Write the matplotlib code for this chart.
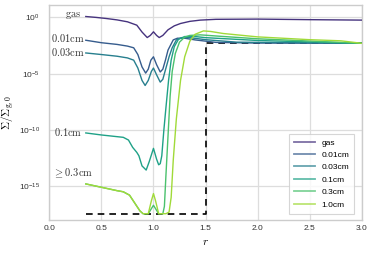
import numpy as np
import matplotlib
matplotlib.use("Agg")
import matplotlib.pyplot as plt
from matplotlib.ticker import FixedLocator, FixedFormatter, NullLocator

plt.rcParams['mathtext.fontset'] = 'cm'
plt.rcParams['font.family'] = ['Liberation Sans', 'DejaVu Sans']

labels = ["gas", "0.01cm", "0.03cm", "0.1cm", "0.3cm", "1.0cm"]
colors = ['#46337e', '#365c8d', '#277f8e', '#1fa187', '#4ac16d', '#a0da39']

# x positions and log10(Sigma/Sigma_g0)
x_gas = [0.35, 0.45, 0.55, 0.65, 0.75, 0.84, 0.89, 0.94, 0.97, 1.0, 1.03, 1.055, 1.09,
         1.14, 1.2, 1.26, 1.35, 1.45, 1.6, 2.0, 2.5, 3.0]
y_gas = [0.08, 0.0, -0.1, -0.22, -0.39, -0.69, -1.3, -1.79, -1.6, -1.28, -1.6, -1.79, -1.6,
         -1.1, -0.75, -0.54, -0.35, -0.24, -0.17, -0.15, -0.2, -0.24]

x_001 = [0.35, 0.5, 0.65, 0.75, 0.81, 0.85, 0.89, 0.925, 0.95, 0.975, 1.0, 1.03, 1.065,
         1.09, 1.115, 1.14, 1.19, 1.23, 1.3, 1.4, 1.6, 2.0, 2.5, 3.0]
y_001 = [-2.03, -2.25, -2.4, -2.55, -2.7, -3.3, -4.4, -4.95, -4.6, -3.8, -3.5, -4.2, -4.85,
         -4.6, -3.8, -2.9, -2.0, -1.85, -1.85, -2.0, -2.22, -2.28, -2.29, -2.3]

x_003 = [0.35, 0.5, 0.65, 0.75, 0.81, 0.85, 0.89, 0.92, 0.95, 0.98, 1.0, 1.03, 1.065,
         1.09, 1.12, 1.15, 1.18, 1.22, 1.27, 1.35, 1.5, 1.8, 2.5, 3.0]
y_003 = [-3.16, -3.3, -3.45, -3.6, -3.8, -4.5, -5.6, -6.05, -5.6, -4.8, -4.5, -5.1, -5.75,
         -5.5, -4.5, -3.5, -2.7, -2.0, -1.8, -1.8, -1.98, -2.2, -2.26, -2.3]

x_01 = [0.35, 0.5, 0.65, 0.71, 0.76, 0.8, 0.84, 0.86, 0.89, 0.93, 0.96, 1.0, 1.03, 1.05,
        1.065, 1.08, 1.1, 1.12, 1.145, 1.17, 1.2, 1.24, 1.3, 1.4, 1.5, 2.0, 2.5, 3.0]
y_01 = [-10.27, -10.45, -10.6, -10.66, -10.9, -11.55, -12.0, -12.3, -13.2, -13.57, -12.8,
        -11.64, -12.6, -13.1, -13.0, -12.3, -10.0, -8.0, -5.6, -3.8, -2.6, -1.95, -1.7,
        -1.7, -1.8, -2.05, -2.18, -2.3]

x_03 = [0.35, 0.5, 0.65, 0.71, 0.77, 0.82, 0.87, 0.9, 0.95, 0.98, 1.0, 1.02, 1.05, 1.09,
        1.105, 1.12, 1.14, 1.16, 1.18, 1.21, 1.25, 1.3, 1.35, 1.45, 1.6, 2.0, 2.5, 3.0]
y_03 = [-14.8, -15.1, -15.4, -15.5, -15.8, -16.5, -17.2, -17.45, -17.45, -17.0, -16.7,
        -17.0, -17.45, -17.45, -16.8, -14.0, -10.5, -7.0, -4.8, -3.2, -2.2, -1.75, -1.6,
        -1.55, -1.65, -1.9, -2.1, -2.3]

x_10 = [0.35, 0.5, 0.65, 0.71, 0.77, 0.82, 0.87, 0.9, 0.95, 0.98, 1.0, 1.02, 1.05, 1.12,
        1.15, 1.17, 1.19, 1.22, 1.26, 1.3, 1.35, 1.4, 1.48, 1.55, 1.67, 2.0, 2.5, 2.8, 3.0]
y_10 = [-14.8, -15.1, -15.4, -15.5, -15.8, -16.5, -17.2, -17.45, -17.45, -16.3, -15.66,
        -16.3, -17.45, -17.45, -17.3, -16.0, -12.7, -9.0, -5.6, -3.5, -2.1, -1.5, -1.2,
        -1.25, -1.43, -1.73, -1.98, -2.08, -2.3]

xs = [x_gas, x_001, x_003, x_01, x_03, x_10]
ys = [y_gas, y_001, y_003, y_01, y_03, y_10]

# dashed reference profile
x_ref = [0.35, 1.5, 1.5, 3.0]
y_ref = [-17.47, -17.47, -2.3, -2.3]

# annotations
ann_text = [r"$\mathrm{gas}$", r"$0.01\mathrm{cm}$", r"$0.03\mathrm{cm}$",
            r"$0.1\mathrm{cm}$", r"$\geq0.3\mathrm{cm}$"]
ann_x = [0.15, 0.016, 0.016, 0.045, 0.036]
ann_y = [0.2, -1.82, -3.04, -10.15, -13.85]

ytick_vals = [1e0, 1e-5, 1e-10, 1e-15]
ytick_labels = [r"$\mathregular{10^{0}}$", r"$\mathregular{10^{-5}}$",
                r"$\mathregular{10^{-10}}$", r"$\mathregular{10^{-15}}$"]

fig = plt.figure(figsize=(3.74, 2.56), dpi=100)
ax = fig.add_axes([0.132, 0.141, 0.835, 0.838])
ax.set_facecolor('white')

ax.plot(x_ref, 10.0 ** np.array(y_ref), color='black', ls=(0, (4, 3)), lw=1.2, zorder=2)
for x, y, c, l in zip(xs, ys, colors, labels):
    ax.plot(x, 10.0 ** np.array(y), color=c, lw=1.0, label=l, zorder=3)

for t, tx, ty in zip(ann_text, ann_x, ann_y):
    ax.text(tx, 10.0 ** ty, t, fontsize=7.5, va='center', ha='left', color='#333333')

ax.set_yscale('log')
ax.set_xlim(0, 3)
ax.set_ylim(1e-18, 10 ** 1.07)
ax.yaxis.set_major_locator(FixedLocator(ytick_vals))
ax.yaxis.set_major_formatter(FixedFormatter(ytick_labels))
ax.yaxis.set_minor_locator(NullLocator())
ax.set_xticks([0, 0.5, 1.0, 1.5, 2.0, 2.5, 3.0])
ax.set_xticklabels(["0.0", "0.5", "1.0", "1.5", "2.0", "2.5", "3.0"])
ax.tick_params(axis='both', length=0, labelsize=6, labelcolor='#333333')
ax.tick_params(axis='x', pad=4)
ax.tick_params(axis='y', pad=7)

ax.grid(True, color='#dddddd', lw=0.9)
ax.set_axisbelow(True)
for s in ax.spines.values():
    s.set_color('#cccccc')
    s.set_linewidth(1.0)

ax.set_xlabel(r"$r$", fontsize=8, labelpad=3)
ax.set_ylabel(r"$\Sigma/\Sigma_{\mathrm{g},0}$", fontsize=8, labelpad=2)

leg = ax.legend(loc='lower right', bbox_to_anchor=(0.99, 0.01), fontsize=6,
                frameon=True, fancybox=False, handlelength=2.5, borderpad=0.6,
                labelspacing=0.55)
leg.get_frame().set_edgecolor('#cccccc')
leg.get_frame().set_linewidth(0.8)
for h in leg.get_lines():
    h.set_alpha(0.7)
    h.set_linewidth(1.3)

fig.savefig("out.png", dpi=100, facecolor='white')
